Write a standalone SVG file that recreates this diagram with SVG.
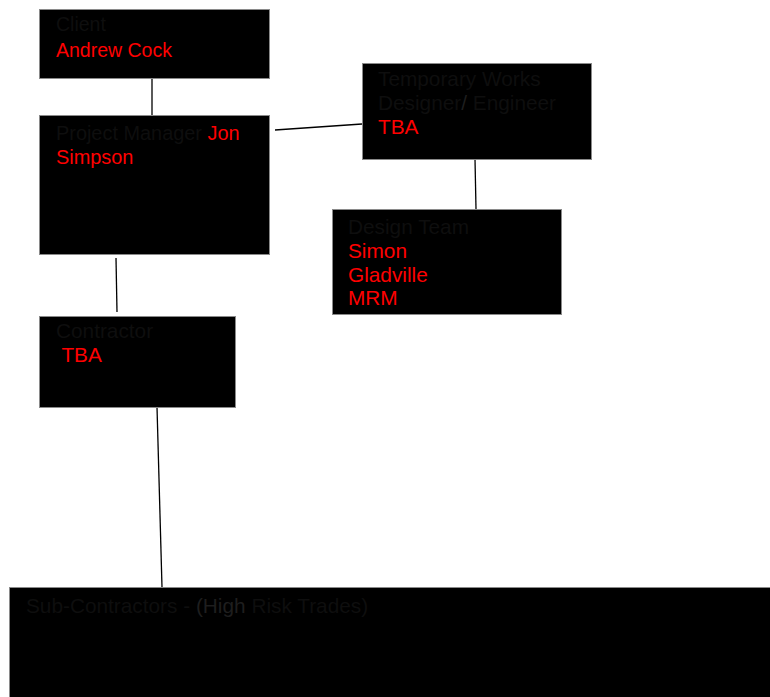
<svg xmlns="http://www.w3.org/2000/svg" width="770" height="697" viewBox="0 0 770 697">
<style>
.box{fill:#000;stroke:#8a8a8a;stroke-width:1}
text{font-family:"Liberation Sans",Arial,sans-serif;font-size:20.8px}
text.s{font-size:19.5px}
text.m{font-size:19.9px}
.d{fill:#0e0e0e}
.h{fill:#1e1e1e}
.r{fill:#ff0000}
.c{stroke:#000;stroke-width:1.3;fill:none}
</style>
<rect width="770" height="697" fill="#fff"/>
<g id="connectors">
<line class="c" x1="152" y1="78" x2="152" y2="115"/>
<line class="c" x1="275" y1="130" x2="362" y2="124"/>
<line class="c" x1="475" y1="159" x2="476" y2="209"/>
<line class="c" x1="116" y1="258" x2="117" y2="312"/>
<line class="c" x1="157" y1="407" x2="162" y2="587"/>
</g>
<g id="client">
<rect class="box" x="39.5" y="9.5" width="230" height="69"/>
<text x="56" y="31" class="s d">Client</text>
<text x="56" y="57" class="s r">Andrew Cock</text>
</g>
<g id="project-manager">
<rect class="box" x="39.5" y="115.5" width="230" height="139"/>
<text x="56" y="140" class="m"><tspan class="d">Project Manager </tspan><tspan class="r">Jon</tspan></text>
<text x="56" y="164" class="m r">Simpson</text>
</g>
<g id="temporary-works">
<rect class="box" x="362.5" y="63.5" width="229" height="96"/>
<text x="378" y="86" class="d">Temporary Works</text>
<text x="378" y="110"><tspan class="d">Designer</tspan><tspan class="h">/</tspan><tspan class="d"> Engineer</tspan></text>
<text x="378" y="134" class="r">TBA</text>
</g>
<g id="design-team">
<rect class="box" x="332.5" y="209.5" width="229" height="105"/>
<text x="348" y="234" class="d">Design Team</text>
<text x="348" y="258" class="r">Simon</text>
<text x="348" y="282" class="r">Gladville</text>
<text x="348" y="305" class="r">MRM</text>
</g>
<g id="contractor">
<rect class="box" x="39.5" y="316.5" width="196" height="91"/>
<text x="56" y="338" class="d">Contractor</text>
<text x="56" y="362" class="r" xml:space="preserve"> TBA</text>
</g>
<g id="sub-contractors">
<rect class="box" x="9.5" y="587.5" width="761" height="110"/>
<text x="26" y="613"><tspan class="d">Sub-Contractors - </tspan><tspan class="h">(High</tspan><tspan class="d"> Risk Trades)</tspan></text>
</g>
</svg>
